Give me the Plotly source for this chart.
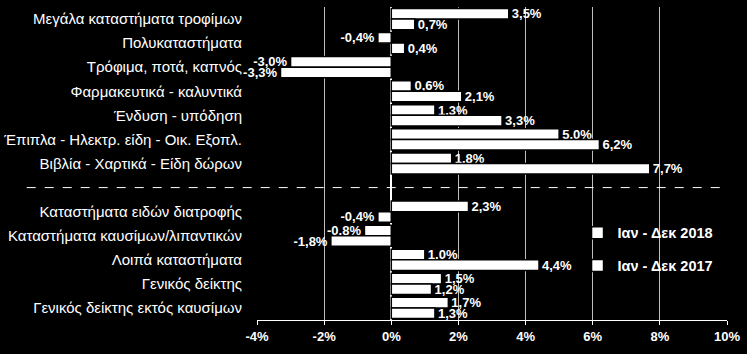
import plotly.graph_objects as go

categories = [
    "Μεγάλα καταστήματα τροφίμων",
    "Πολυκαταστήματα",
    "Τρόφιμα, ποτά, καπνός",
    "Φαρμακευτικά - καλυντικά",
    "Ένδυση - υπόδηση",
    "Έπιπλα - Ηλεκτρ. είδη - Οικ. Εξοπλ.",
    "Βιβλία - Χαρτικά - Είδη δώρων",
    " ",
    "Καταστήματα ειδών διατροφής",
    "Καταστήματα καυσίμων/λιπαντικών",
    "Λοιπά καταστήματα",
    "Γενικός δείκτης",
    "Γενικός δείκτης εκτός καυσίμων",
]
values_2018 = [3.5, -0.4, -3.0, 0.6, 1.3, 5.0, 1.8, None, 2.3, -0.8, 1.0, 1.5, 1.7]
values_2017 = [0.7, 0.4, -3.3, 2.1, 3.3, 6.2, 7.7, None, -0.4, -1.8, 4.4, 1.2, 1.3]
series_names = ["Ιαν - Δεκ 2018", "Ιαν - Δεκ 2017"]
tick_vals = [-4, -2, 0, 2, 4, 6, 8, 10]
tick_text = ["-4%", "-2%", "0%", "2%", "4%", "6%", "8%", "10%"]


def fmt(v):
    if v is None:
        return ""
    return f"{v:.1f}".replace(".", ",") + "%"


FONT = "Liberation Sans, Arial, sans-serif"

fig = go.Figure()
for i, (name, vals) in enumerate(zip(series_names, [values_2018, values_2017])):
    fig.add_trace(go.Bar(
        y=categories, x=vals, name=name, orientation="h",
        legendgroup=f"g{i}",
        marker=dict(color="white", line=dict(color="black", width=1.5)),
        text=[fmt(v) for v in vals], textposition="outside",
        textfont=dict(color="white", size=13, family=FONT, weight="bold"),
        cliponaxis=False, constraintext="none",
    ))

fig.add_shape(type="line", xref="paper", yref="y", x0=-0.49, x1=0.985,
              y0=" ", y1=" ", line=dict(color="white", width=1, dash="dash"))

fig.update_layout(
    width=747, height=354,
    paper_bgcolor="black", plot_bgcolor="black",
    margin=dict(l=257, r=20, t=7, b=34),
    barmode="group", bargap=0.12, bargroupgap=0,
    font=dict(family=FONT, color="white", size=13),
    xaxis=dict(range=[-4, 10], tickvals=tick_vals, ticktext=tick_text,
               automargin=False,
               showgrid=True, gridcolor="#bfbfbf", gridwidth=1,
               zeroline=True, zerolinecolor="white", zerolinewidth=1.5,
               showline=True, linecolor="white", linewidth=1,
               ticks="outside", ticklen=4, tickcolor="white",
               tickfont=dict(size=13, weight="bold", family=FONT, color="white")),
    yaxis=dict(autorange="reversed", showgrid=False, zeroline=False,
               automargin=False, ticklabelstandoff=14,
               tickfont=dict(size=15, family=FONT, color="white")),
    legend=dict(x=0.682, y=0.33, xanchor="left", yanchor="top",
                bgcolor="rgba(0,0,0,0)", tracegroupgap=11, traceorder="grouped",
                itemwidth=30,
                font=dict(size=14.5, weight="bold", family=FONT, color="white")),
    showlegend=True,
)
fig.write_html("out.html")
